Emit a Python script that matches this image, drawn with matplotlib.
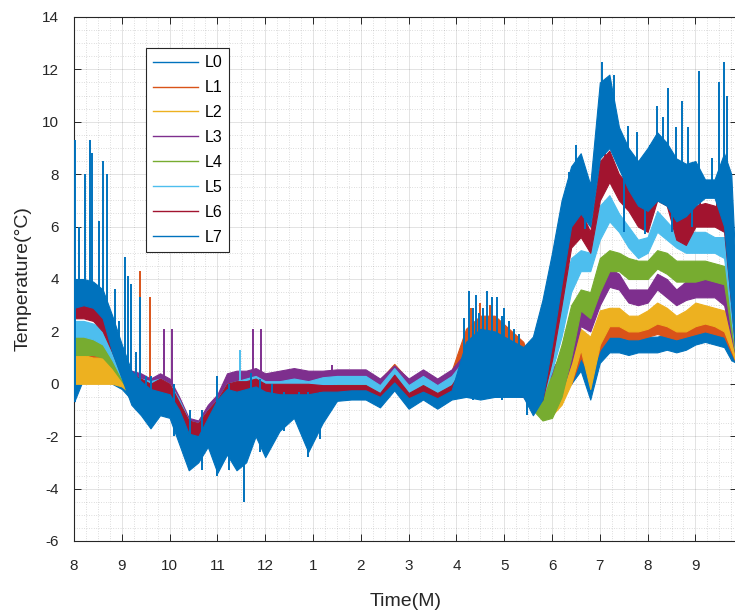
import matplotlib
matplotlib.use('Agg')
import matplotlib.pyplot as plt
from matplotlib.ticker import MultipleLocator, FixedLocator
from matplotlib.lines import Line2D

plt.rcParams['font.family'] = ['Liberation Sans', 'DejaVu Sans']
plt.rcParams['axes.unicode_minus'] = False

# ---- data (months since August) ----
T = [0.0, 0.2, 0.4, 0.6, 0.8, 1.0, 1.2, 1.4, 1.6, 1.8, 2.0, 2.2, 2.4, 2.6, 2.8, 3.0,
     3.2, 3.4, 3.6, 3.8, 4.0, 4.3, 4.6, 4.9, 5.2, 5.5, 5.8, 6.1, 6.4, 6.7, 7.0, 7.3,
     7.6, 7.9, 8.2, 8.5, 8.8, 9.1, 9.4, 9.6, 9.8, 10.0, 10.2, 10.4, 10.6, 10.8, 11.0,
     11.2, 11.4, 11.6, 11.8, 12.0, 12.2, 12.4, 12.6, 12.8, 13.0, 13.2, 13.4, 13.6,
     13.75, 13.85]

month_labels = ['8', '9', '10', '11', '12', '1', '2', '3', '4', '5', '6', '7', '8', '9']
names = ['L0', 'L1', 'L2', 'L3', 'L4', 'L5', 'L6', 'L7']
colors = ['#0072BD', '#D95319', '#EDB120', '#7E2F8E', '#77AC30', '#4DBEEE', '#A2142F', '#0072BD']

L0_lo = [-0.7, 0.2, 0.2, 0.2, 0.0, -0.2, -0.6, -0.9, -1.2, -0.5, -0.8, -1.6, -2.2, -2.2, -1.8, -1.6,
         -1.0, -0.9, -0.7, -0.5, -0.7, -0.6, -0.5, -0.7, -0.5, -0.45, -0.45, -0.45, -0.8, -0.1, -0.8, -0.45,
         -0.8, -0.45, -0.5, -0.5, -0.5, -0.5, -0.5, -0.8, -0.6, -0.5, -0.3, 0.0, 0.5, -0.6, 0.8,
         1.2, 1.2, 1.1, 1.2, 1.2, 1.2, 1.3, 1.2, 1.3, 1.5, 1.6, 1.5, 1.4, 0.9, 0.8]
L0_hi = [1.5, 1.2, 1.2, 1.1, 0.9, 0.5, 0.2, 0.0, -0.2, 0.1, -0.2, -0.9, -1.5, -1.6, -1.2, -0.8,
         -0.2, -0.1, 0.0, 0.1, -0.1, -0.1, -0.1, -0.1, -0.15, -0.15, -0.15, -0.15, -0.45, 0.2, -0.45, -0.15,
         -0.45, -0.15, 1.5, 1.9, 1.9, 1.7, 1.3, 0.5, 0.5, 0.6, 0.8, 1.0, 1.1, 1.0, 1.5,
         1.8, 1.8, 1.7, 1.8, 1.8, 1.8, 1.9, 1.8, 2.0, 2.2, 2.2, 2.1, 2.0, 1.8, 1.2]

L1_lo = [0.6, 0.6, 0.6, 0.5, 0.2, 0.0, -0.3, -0.6, -0.9, -0.1, -0.4, -1.3, -2.0, -2.0, -1.6, -1.3,
         -0.7, -0.5, -0.3, -0.2, -0.3, -0.2, -0.1, -0.3, 0.1, 0.15, 0.15, 0.15, -0.25, 0.45, -0.25, 0.15,
         -0.25, 0.15, 0.0, 0.0, 0.0, 0.0, -0.2, -0.8, -0.8, -0.6, -0.3, 0.0, 1.0, 0.3, 1.3,
         1.8, 1.8, 1.7, 1.7, 1.8, 1.9, 1.8, 1.7, 1.8, 1.9, 2.0, 1.9, 1.8, 1.2, 0.8]
L1_hi = [1.4, 1.4, 1.3, 1.2, 1.0, 0.6, 0.4, 0.3, 0.1, 0.3, 0.1, -0.6, -1.4, -1.5, -1.0, -0.5,
         0.3, 0.4, 0.4, 0.5, 0.3, 0.4, 0.5, 0.4, 0.45, 0.5, 0.5, 0.5, 0.15, 0.76, 0.15, 0.5,
         0.15, 0.5, 2.1, 2.6, 2.6, 2.1, 1.6, 0.5, 0.3, 0.6, 1.0, 1.6, 1.9, 1.7, 2.3,
         2.4, 2.4, 2.3, 2.3, 2.4, 2.5, 2.4, 2.3, 2.4, 2.5, 2.6, 2.5, 2.4, 2.2, 1.3]

L2_lo = [0.0, 0.0, 0.0, 0.0, 0.0, -0.1, -0.4, -0.7, -1.0, -0.3, -0.6, -1.4, -2.0, -2.0, -1.6, -1.4,
         -0.9, -0.7, -0.5, -0.4, -0.5, -0.4, -0.3, -0.5, -0.2, -0.1, -0.1, -0.1, -0.5, 0.2, -0.5, -0.1,
         -0.5, -0.1, -0.2, -0.2, -0.2, -0.2, -0.4, -1.0, -1.2, -1.2, -0.8, 0.0, 1.3, -0.2, 1.5,
         2.2, 2.2, 2.0, 2.0, 2.1, 2.3, 2.2, 2.0, 2.0, 2.2, 2.3, 2.2, 2.0, 1.3, 0.8]
L2_hi = [1.1, 1.1, 1.0, 1.0, 0.8, 0.4, 0.2, 0.1, 0.0, 0.1, -0.1, -0.7, -1.5, -1.5, -1.1, -0.7,
         -0.1, 0.0, 0.1, 0.2, 0.0, 0.0, 0.1, 0.0, 0.15, 0.15, 0.15, 0.15, -0.2, 0.45, -0.2, 0.15,
         -0.2, 0.15, 0.9, 1.2, 1.2, 1.0, 0.5, 0.2, 0.0, 0.3, 0.8, 1.8, 2.1, 1.8, 2.8,
         2.9, 2.9, 2.6, 2.6, 2.8, 3.1, 2.9, 2.6, 2.8, 3.1, 3.0, 2.9, 2.8, 2.6, 1.5]

L3_lo = [1.4, 1.4, 1.4, 1.2, 0.8, 0.2, -0.2, -0.5, -0.8, 0.0, -0.3, -1.2, -2.0, -2.0, -1.5, -1.2,
         -0.5, -0.3, -0.2, 0.0, -0.2, 0.0, 0.1, -0.2, 0.2, 0.25, 0.25, 0.25, -0.15, 0.45, -0.15, 0.25,
         -0.15, 0.25, 0.1, 0.1, 0.1, 0.1, -0.1, -0.6, -1.0, -1.0, -0.3, 0.8, 2.2, 2.0, 3.0,
         3.7, 3.6, 3.1, 3.0, 3.1, 3.6, 3.3, 3.0, 3.2, 3.3, 3.3, 3.3, 3.0, 1.8, 1.0]
L3_hi = [2.0, 2.0, 2.0, 1.9, 1.5, 0.8, 0.5, 0.4, 0.2, 0.4, 0.2, -0.5, -1.3, -1.4, -0.8, -0.4,
         0.4, 0.5, 0.5, 0.6, 0.4, 0.5, 0.6, 0.5, 0.5, 0.55, 0.55, 0.55, 0.2, 0.7, 0.2, 0.55,
         0.2, 0.55, 1.2, 1.5, 1.5, 1.2, 0.8, 0.3, 0.0, 0.5, 1.2, 2.5, 3.0, 2.9, 4.0,
         4.4, 4.2, 3.6, 3.6, 3.6, 4.2, 4.0, 3.6, 3.9, 3.9, 4.0, 3.9, 3.8, 3.6, 1.8]

L4_lo = [1.1, 1.1, 1.1, 1.0, 0.6, 0.1, -0.4, -0.7, -1.0, -0.3, -0.6, -1.4, -2.0, -2.0, -1.6, -1.4,
         -0.9, -0.7, -0.5, -0.4, -0.5, -0.4, -0.3, -0.5, -0.2, -0.1, -0.1, -0.1, -0.5, 0.2, -0.5, -0.1,
         -0.5, -0.1, -0.1, -0.1, -0.1, -0.1, -0.4, -1.0, -1.4, -1.3, -0.5, 1.0, 2.8, 2.5, 3.5,
         4.3, 4.3, 4.0, 4.0, 4.0, 4.4, 4.2, 3.9, 3.9, 3.9, 4.0, 3.9, 3.8, 2.0, 1.0]
L4_hi = [1.8, 1.8, 1.7, 1.6, 1.3, 0.6, 0.3, 0.1, 0.0, 0.1, -0.1, -0.7, -1.5, -1.5, -1.1, -0.7,
         -0.1, 0.0, 0.1, 0.2, 0.0, 0.0, 0.1, 0.0, 0.15, 0.15, 0.15, 0.15, -0.2, 0.45, -0.2, 0.15,
         -0.2, 0.15, 0.9, 1.1, 1.1, 1.0, 0.5, 0.2, -0.2, 0.3, 1.5, 3.0, 3.6, 3.5, 4.8,
         5.1, 5.0, 4.8, 4.7, 4.7, 5.1, 5.0, 4.7, 4.7, 4.7, 4.7, 4.6, 4.5, 4.2, 2.0]

L5_lo = [1.8, 1.8, 1.7, 1.5, 0.9, 0.2, -0.3, -0.6, -0.9, -0.2, -0.5, -1.3, -2.0, -2.0, -1.6, -1.4,
         -0.8, -0.6, -0.4, -0.3, -0.4, -0.3, -0.2, -0.4, -0.1, 0.0, 0.0, 0.0, -0.4, 0.35, -0.4, 0.0,
         -0.4, 0.0, 0.0, 0.0, 0.0, 0.0, -0.3, -0.8, -0.5, 0.5, 1.8, 3.5, 4.3, 4.3, 5.5,
         6.2, 5.8, 5.2, 4.8, 5.0, 5.8, 5.5, 5.2, 5.0, 5.0, 5.0, 5.0, 4.8, 2.5, 1.0]
L5_hi = [2.4, 2.4, 2.3, 2.1, 1.7, 0.8, 0.4, 0.2, 0.1, 0.2, 0.0, -0.6, -1.4, -1.5, -1.0, -0.6,
         0.0, 0.1, 0.2, 0.3, 0.1, 0.1, 0.2, 0.1, 0.25, 0.3, 0.3, 0.3, -0.05, 0.6, -0.05, 0.3,
         -0.05, 0.3, 1.0, 1.3, 1.3, 1.1, 0.6, 0.2, 1.0, 2.0, 3.5, 4.8, 5.1, 5.0, 6.8,
         7.2, 6.5, 6.0, 5.5, 5.6, 6.6, 6.2, 5.8, 5.8, 5.8, 5.8, 5.6, 5.6, 5.0, 2.5]

L6_lo = [2.5, 2.5, 2.4, 2.0, 1.2, 0.3, -0.3, -0.7, -1.0, -0.3, -0.6, -1.5, -2.2, -2.2, -1.8, -1.6,
         -1.0, -0.8, -0.6, -0.4, -0.6, -0.5, -0.4, -0.6, -0.4, -0.35, -0.35, -0.35, -0.7, 0.0, -0.7, -0.35,
         -0.7, -0.35, -0.3, -0.3, -0.3, -0.3, -0.5, -1.0, -0.6, 0.9, 3.0, 5.2, 5.6, 5.0, 7.0,
         7.7, 7.0, 6.6, 6.0, 5.8, 7.0, 6.8, 5.5, 5.3, 6.0, 6.0, 6.0, 5.8, 3.0, 1.0]
L6_hi = [3.1, 3.1, 3.0, 2.8, 2.2, 1.0, 0.4, 0.2, 0.0, 0.2, 0.0, -0.7, -1.4, -1.5, -1.0, -0.6,
         0.0, 0.1, 0.1, 0.2, 0.0, 0.0, 0.0, 0.0, -0.05, -0.05, -0.05, -0.05, -0.35, 0.35, -0.35, -0.05,
         -0.35, -0.05, 0.8, 1.2, 1.2, 1.0, 0.6, 0.0, 1.4, 3.0, 4.8, 6.6, 6.6, 5.8, 8.5,
         8.9, 8.0, 7.6, 7.2, 7.0, 8.3, 7.8, 6.7, 6.5, 6.8, 6.9, 6.8, 6.6, 6.0, 3.0]

L7_lo = [2.9, 3.0, 2.9, 2.5, 1.2, 0.2, -0.8, -1.2, -1.7, -1.2, -1.3, -2.3, -3.3, -3.0, -2.4, -3.4,
         -2.7, -3.3, -3.0, -2.0, -2.8, -1.8, -1.3, -2.6, -1.5, -0.65, -0.6, -0.6, -0.9, -0.25, -0.95, -0.6,
         -0.95, -0.6, -0.5, -0.6, -0.5, -0.4, -0.5, -1.2, -0.6, 1.5, 3.8, 6.0, 6.5, 6.0, 8.6,
         9.0, 8.2, 7.4, 6.8, 6.6, 7.0, 6.8, 6.2, 6.4, 6.8, 7.1, 7.1, 6.0, 3.0, 1.0]
L7_hi = [4.0, 4.0, 3.9, 3.6, 2.6, 1.5, 0.5, 0.1, -0.2, -0.3, -0.4, -1.0, -1.9, -2.0, -1.3, -0.6,
         -0.2, -0.3, -0.2, -0.1, -0.3, -0.4, -0.4, -0.4, -0.3, -0.3, -0.25, -0.25, -0.5, 0.05, -0.55, -0.3,
         -0.55, -0.25, 1.6, 2.1, 2.0, 1.7, 1.4, 1.8, 3.2, 5.0, 7.0, 8.3, 8.8, 7.6, 11.5,
         11.8, 9.8, 9.0, 8.5, 9.0, 9.6, 9.2, 8.6, 8.4, 8.5, 7.8, 7.8, 8.8, 8.0, 4.0]

# isolated spikes (time, low, high)
L1_spk_t = [1.38, 1.58, 8.3, 8.5, 8.7, 9.1]
L1_spk_lo = [0.0, 0.0, 1.0, 1.0, 1.0, 1.0]
L1_spk_hi = [4.3, 3.3, 2.9, 3.1, 3.0, 2.4]
L3_spk_t = [1.88, 2.05, 3.75, 3.92, 5.4]
L3_spk_lo = [0.0, 0.0, 0.0, 0.0, 0.0]
L3_spk_hi = [2.1, 2.1, 2.1, 2.1, 0.7]
L5_spk_t = [3.47]
L5_spk_lo = [0.0]
L5_spk_hi = [1.3]
L6_spk_t = [11.1, 11.5, 12.15, 12.3, 13.1, 13.45]
L6_spk_lo = [7.5, 6.5, 7.0, 7.0, 6.0, 6.0]
L6_spk_hi = [8.9, 8.3, 8.6, 8.4, 7.4, 7.2]
L7_spk_t = [0.02, 0.1, 0.22, 0.33, 0.37, 0.52, 0.61, 0.69, 0.86, 0.95, 1.07, 1.13, 1.19, 1.3,
            1.38, 1.5, 1.62, 2.1, 2.43, 2.67, 2.9, 3.0, 3.25, 3.55, 3.7, 3.9, 4.15, 4.4, 4.7, 4.9, 5.15,
            8.15, 8.27, 8.35, 8.42, 8.48, 8.55, 8.65, 8.75, 8.84, 8.95, 9.0, 9.1, 9.2, 9.3, 9.47,
            10.35, 10.5, 10.7, 11.05, 11.15, 11.3, 11.5, 11.6, 11.78, 11.95, 12.05, 12.2, 12.32, 12.43,
            12.5, 12.6, 12.72, 12.85, 12.93, 13.07, 13.35, 13.5, 13.6, 13.66]
L7_spk_lo = [-0.7, 3.0, 3.0, 3.0, 3.0, 3.0, 3.0, 2.5, 1.5, 1.0, 0.5, 0.5, 0.3, -0.5,
             -0.5, -1.4, -1.7, -2.0, -3.3, -3.3, -2.6, -3.5, -3.3, -4.5, -2.5, -2.6, -2.2, -1.8, -1.5, -2.8, -2.1,
             -0.5, 0.0, -0.6, 0.0, -0.5, 0.0, 0.0, 0.0, 0.0, -0.6, 0.0, -0.5, -0.5, -0.5, -1.2,
             7.0, 7.0, 5.9, 9.0, 9.0, 9.0, 5.8, 8.0, 8.0, 5.7, 8.0, 8.0, 8.0, 8.0,
             5.8, 8.0, 8.0, 7.5, 6.0, 7.5, 7.5, 7.5, 7.0, 7.0]
L7_spk_hi = [9.3, 6.0, 8.0, 9.3, 8.8, 6.2, 8.5, 8.0, 3.6, 2.4, 4.85, 4.1, 3.8, 1.2,
             3.3, 0.3, 0.3, 0.0, -1.0, -1.0, -1.0, 0.3, 0.0, -1.0, 0.4, 0.2, 0.0, -0.3, -0.3, -0.3, -0.3,
             2.5, 3.55, 2.9, 3.4, 2.7, 2.9, 3.55, 3.3, 3.3, 2.6, 2.9, 2.4, 2.1, 1.9, 1.2,
             8.1, 9.1, 7.5, 12.3, 11.6, 11.8, 8.5, 9.85, 9.6, 8.0, 9.1, 10.6, 10.2, 11.3,
             8.5, 9.8, 10.8, 9.8, 8.2, 11.95, 8.6, 11.5, 12.3, 11.0]

lows = [L0_lo, L1_lo, L2_lo, L3_lo, L4_lo, L5_lo, L6_lo, L7_lo]
highs = [L0_hi, L1_hi, L2_hi, L3_hi, L4_hi, L5_hi, L6_hi, L7_hi]
spikes = {1: (L1_spk_t, L1_spk_lo, L1_spk_hi),
          3: (L3_spk_t, L3_spk_lo, L3_spk_hi),
          5: (L5_spk_t, L5_spk_lo, L5_spk_hi),
          6: (L6_spk_t, L6_spk_lo, L6_spk_hi),
          7: (L7_spk_t, L7_spk_lo, L7_spk_hi)}

# ---- figure ----
fig = plt.figure(figsize=(7.35, 6.15), dpi=100)
ax = fig.add_axes([74 / 735, 74 / 615, 663 / 735, 524 / 615])

text_col = '#262626'
for i, (nm, c) in enumerate(zip(names, colors)):
    ax.fill_between(T, lows[i], highs[i], color=c, lw=0.8, edgecolor=c, zorder=2 + i)
    if i in spikes:
        st, slo, shi = spikes[i]
        ax.vlines(st, slo, shi, colors=c, lw=1.4, zorder=2 + i)

ax.set_xlim(0, 13.87)
ax.set_ylim(-6, 14)
ax.xaxis.set_major_locator(FixedLocator(list(range(len(month_labels)))))
ax.set_xticklabels(month_labels)
ax.yaxis.set_major_locator(MultipleLocator(2))
ax.xaxis.set_minor_locator(MultipleLocator(0.25))
ax.yaxis.set_minor_locator(MultipleLocator(0.5))

ax.grid(which='major', color='#262626', alpha=0.15, lw=0.6, zorder=0)
ax.grid(which='minor', color='#262626', alpha=0.3, lw=0.5, ls=(0, (1, 2.5)), zorder=0)
ax.set_axisbelow(True)

ax.tick_params(which='major', direction='in', top=True, right=True, length=5, width=0.7,
               labelsize=11, colors=text_col)
ax.tick_params(axis='x', which='major', pad=13)
ax.tick_params(axis='y', which='major', pad=11)
ax.tick_params(which='minor', length=0)
for sp in ax.spines.values():
    sp.set_color(text_col)
    sp.set_linewidth(0.8)

ax.set_xlabel('Time(M)', fontsize=14, color=text_col, labelpad=14)
ax.set_ylabel('Temperature(°C)', fontsize=14, color=text_col, labelpad=7)

handles = [Line2D([0], [0], color=c, lw=1.0) for c in colors]
leg = ax.legend(handles, names, loc='upper left', bbox_to_anchor=(146 / 735, 1 - 48 / 615),
                bbox_transform=fig.transFigure, fontsize=11.5, frameon=True, fancybox=False,
                edgecolor='#262626', framealpha=1, borderaxespad=0, handlelength=2.8,
                labelspacing=0.62, borderpad=0.45, handletextpad=0.4)
leg.get_frame().set_linewidth(0.8)
leg.set_zorder(20)

fig.savefig('out.png', dpi=100)
